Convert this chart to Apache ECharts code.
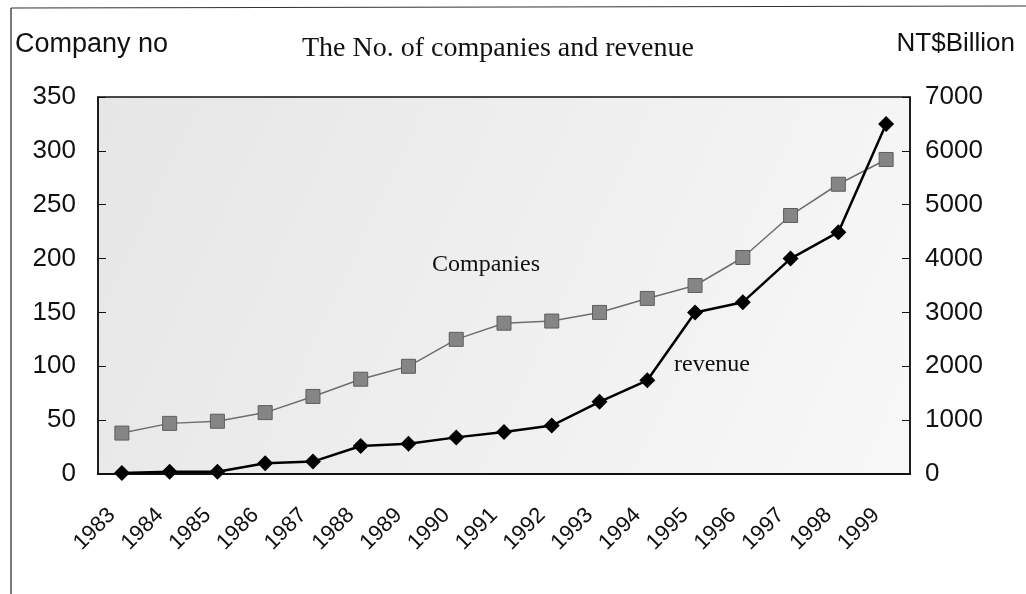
<!DOCTYPE html>
<html>
<head>
<meta charset="utf-8">
<script src="https://cdn.jsdelivr.net/npm/echarts@6/dist/echarts.min.js"></script>
<style>
	html, body { margin: 0; padding: 0; background: #fff; }
	#main { width: 1026px; height: 594px; }
</style>
</head>
<body>
<div id="main"></div>
<script>
// years on the x axis
var years = ['1983', '1984', '1985', '1986', '1987', '1988', '1989', '1990', '1991',
	'1992', '1993', '1994', '1995', '1996', '1997', '1998', '1999'];
// number of companies (left axis)
var companies = [38, 47, 49, 57, 72, 88, 100, 125, 140, 142, 150, 163, 175, 201, 240, 269, 292];
// revenue, NT$ billion (right axis)
var revenue = [20, 40, 40, 200, 230, 520, 560, 680, 780, 900, 1340, 1740, 3000, 3190, 4000, 4490, 6500];

var sansFont = '"Liberation Sans", Arial, sans-serif';
var serifFont = '"Liberation Serif", "Times New Roman", serif';

var ech = echarts.init(document.getElementById('main'));
var option = {
	backgroundColor: '#fff',
	animation: false,
	title: [{
		text: 'The No. of companies and revenue',
		left: 297,
		top: 30,
		textStyle: { fontFamily: serifFont, fontWeight: 'normal', fontSize: 28, color: '#111' }
	}, {
		text: 'Company no',
		left: 10,
		top: 26,
		textStyle: { fontFamily: sansFont, fontWeight: 'normal', fontSize: 27, color: '#111' }
	}, {
		text: 'NT$Billion',
		right: 6,
		top: 26,
		textStyle: { fontFamily: sansFont, fontWeight: 'normal', fontSize: 26, color: '#111' }
	}],
	grid: {
		left: 98,
		right: 116,
		top: 97,
		bottom: 120,
		show: true,
		borderColor: '#111',
		borderWidth: 1.5,
		backgroundColor: {
			type: 'linear', x: 0, y: 0, x2: 1, y2: 1,
			colorStops: [{ offset: 0, color: '#e6e6e6' }, { offset: 1, color: '#f8f8f8' }]
		}
	},
	xAxis: [{
		type: 'category',
		data: years,
		boundaryGap: true,
		axisLine: { lineStyle: { color: '#111', width: 2 } },
		axisTick: { inside: true, length: 7, lineStyle: { color: '#111' } },
		axisLabel: {
			rotate: 45,
			margin: 28,
			padding: [0, 14, 0, 0],
			fontFamily: sansFont,
			fontSize: 22,
			color: '#111'
		},
		splitLine: { show: false }
	}],
	yAxis: [{
		type: 'value',
		min: 0,
		max: 350,
		interval: 50,
		axisLine: { show: true, lineStyle: { color: '#111', width: 1.5 } },
		axisTick: { show: true, inside: true, length: 8, lineStyle: { color: '#111' } },
		axisLabel: { margin: 22, fontFamily: sansFont, fontSize: 26, color: '#111' },
		splitLine: { show: false }
	}, {
		type: 'value',
		min: 0,
		max: 7000,
		interval: 1000,
		position: 'right',
		axisLine: { show: true, lineStyle: { color: '#111', width: 1.5 } },
		axisTick: { show: true, inside: true, length: 8, lineStyle: { color: '#111' } },
		axisLabel: {
			margin: 15,
			fontFamily: sansFont,
			fontSize: 26,
			color: '#111',
			formatter: function (v) { return String(v); }
		},
		splitLine: { show: false }
	}],
	series: [{
		name: 'Companies',
		type: 'line',
		yAxisIndex: 0,
		data: companies,
		symbol: 'rect',
		symbolSize: 14,
		lineStyle: { color: '#6e6e6e', width: 1.5 },
		itemStyle: { color: '#858585', borderColor: '#5e5e5e', borderWidth: 1 },
		z: 3
	}, {
		name: 'revenue',
		type: 'line',
		yAxisIndex: 1,
		data: revenue,
		symbol: 'diamond',
		symbolSize: 16,
		lineStyle: { color: '#000', width: 2.5 },
		itemStyle: { color: '#000' },
		z: 4
	}],
	graphic: [{
		type: 'text',
		left: 432,
		top: 253,
		style: { text: 'Companies', font: '24px ' + serifFont, fill: '#111' }
	}, {
		type: 'text',
		left: 674,
		top: 353,
		style: { text: 'revenue', font: '24px ' + serifFont, fill: '#111' }
	}, {
		type: 'line',
		shape: { x1: 11, y1: 8, x2: 11, y2: 594 },
		style: { stroke: '#222', lineWidth: 1.2 }
	}, {
		type: 'line',
		shape: { x1: 11, y1: 8, x2: 1026, y2: 6 },
		style: { stroke: '#333', lineWidth: 1.2 }
	}]
};
ech.setOption(option);
</script>
</body>
</html>
